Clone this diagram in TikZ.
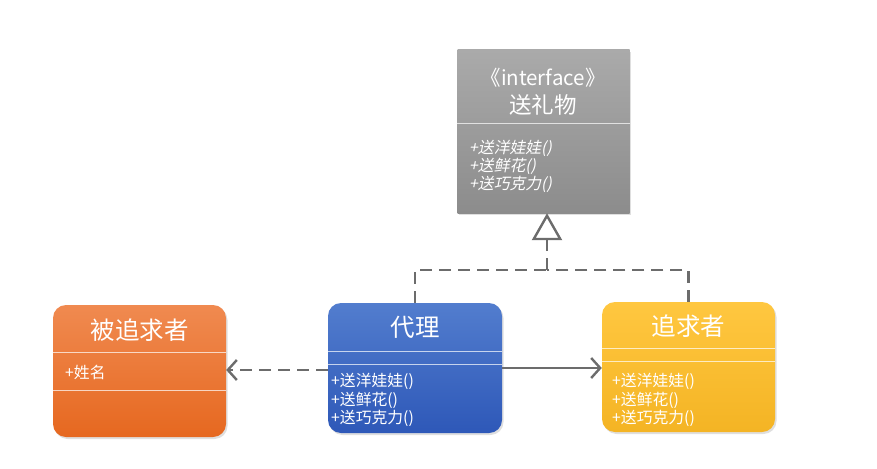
\documentclass[tikz,border=0pt]{standalone}
\usepackage{fontspec}
\setmainfont{Noto Sans CJK SC}
\newfontfamily\slfont[FakeSlant=0.2]{Noto Sans CJK SC}
\usetikzlibrary{arrows.meta,shadows}
\definecolor{linegray}{HTML}{6C6C6C}
\begin{document}
\begin{tikzpicture}[x=1pt,y=-1pt,
  cls/.style={rectangle, draw=none, inner sep=0pt, rounded corners=13pt,
    drop shadow={shadow xshift=1.5pt, shadow yshift=-2pt, opacity=0.25}},
  divider/.style={draw=white, opacity=0.7, line width=0.6pt},
  title/.style={text=white, font=\fontsize{24.5}{26}\selectfont, inner sep=0pt},
  members/.style={text=white, font=\fontsize{15.8}{18.6}\selectfont, align=left, inner sep=0pt, anchor=north west},
  conn/.style={draw=linegray, line width=2.4pt},
  dashline/.style={dash pattern=on 12pt off 7pt}
]
\useasboundingbox (0,0) rectangle (877,468);
% interface box
\node[cls, rounded corners=0pt, top color={rgb,255:red,170;green,170;blue,170}, bottom color={rgb,255:red,140;green,140;blue,140},
  minimum width=172pt, minimum height=163pt] (iface) at (543.5,131.5) {};
\draw[divider] (iface.west |- 0,123) -- (iface.east |- 0,123);
\node[text=white, font=\fontsize{20.5}{22}\selectfont, inner sep=0pt] (ifacetitle) at (543,78) {《interface》};
\node[text=white, font=\fontsize{22.5}{24}\selectfont, inner sep=0pt] (ifacename) at (543,105) {送礼物};
\node[members, font=\slfont\fontsize{15.8}{18.2}\selectfont] (ifacem) at (469,140) {+送洋娃娃()\\+送鲜花()\\+送巧克力()};
% orange: pursued
\node[cls, top color={rgb,255:red,240;green,138;blue,80}, bottom color={rgb,255:red,230;green,104;blue,32},
  minimum width=173pt, minimum height=132pt] (girl) at (139.5,371) {};
\draw[divider] (girl.west |- 0,352) -- (girl.east |- 0,352);
\draw[divider] (girl.west |- 0,390) -- (girl.east |- 0,390);
\node[title] (girlt) at (139.5,330) {被追求者};
\node[members] (girlm) at (65,365) {+姓名};
% blue: proxy
\node[cls, top color={rgb,255:red,82;green,125;blue,206}, bottom color={rgb,255:red,46;green,88;blue,184},
  minimum width=174pt, minimum height=130pt] (proxy) at (415,368) {};
\draw[divider] (proxy.west |- 0,351) -- (proxy.east |- 0,351);
\draw[divider] (proxy.west |- 0,364) -- (proxy.east |- 0,364);
\node[title] (proxyt) at (415,327) {代理};
\node[members] (proxym) at (331,373) {+送洋娃娃()\\+送鲜花()\\+送巧克力()};
% yellow: pursuer
\node[cls, top color={rgb,255:red,255;green,199;blue,64}, bottom color={rgb,255:red,244;green,180;blue,36},
  minimum width=173pt, minimum height=130pt] (pursuer) at (688.5,367) {};
\draw[divider] (pursuer.west |- 0,348) -- (pursuer.east |- 0,348);
\draw[divider] (pursuer.west |- 0,361) -- (pursuer.east |- 0,361);
\node[title] (pursuert) at (688.5,326) {追求者};
\node[members] (pursuerm) at (612,373) {+送洋娃娃()\\+送鲜花()\\+送巧克力()};
% connectors
\coordinate (j) at (547,270);
\draw[conn, dashline] (proxy.north) |- (j);
\draw[conn, dashline] (pursuer.north) |- (j);
\draw[conn, dashline, -{Triangle[open, length=27pt, width=30pt, line width=2.4pt, fill=white]}] (j) -- (iface.south -| j);
\draw[conn, -{Straight Barb[length=9pt, width=20pt, line width=2.4pt]}] (proxy.east) -- (pursuer.west |- proxy.east);
\draw[conn, dashline, -{Straight Barb[length=9pt, width=20pt, line width=2.4pt]}] (proxy.west |- 0,370) -- (girl.east |- 0,370);
\end{tikzpicture}
\end{document}
